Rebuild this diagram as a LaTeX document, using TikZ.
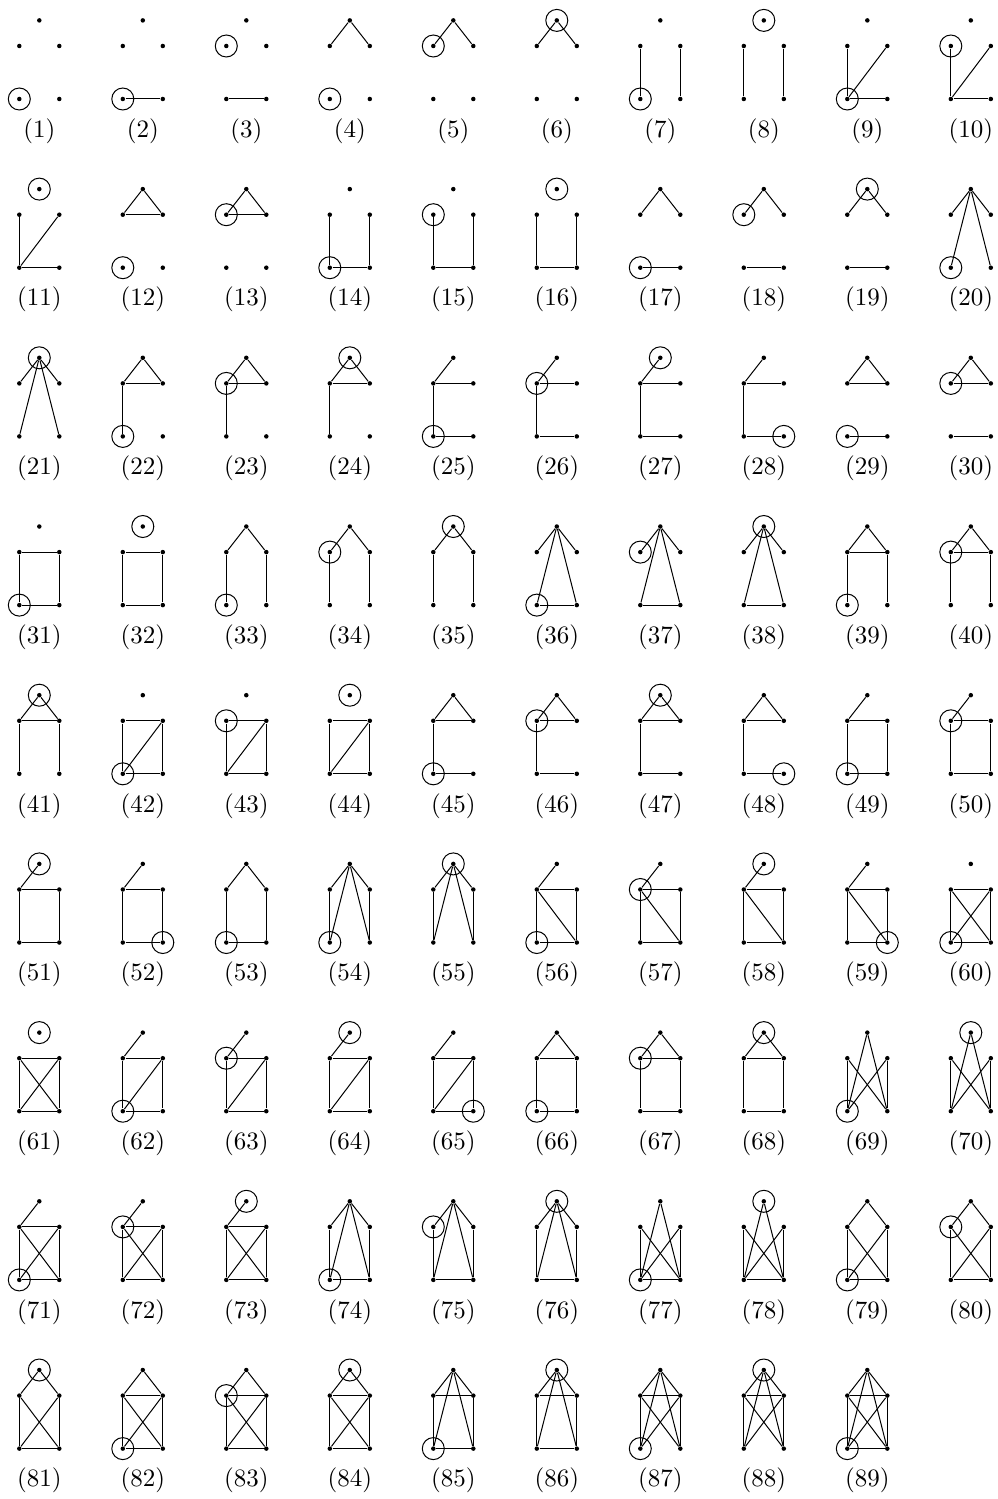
\documentclass[tikz,border=0pt]{standalone}
\begin{document}
\begin{tikzpicture}[x=0.4pt,y=-0.4pt,
  vtx/.style={circle,fill=black,draw=none,inner sep=0pt,minimum size=1.8pt},
  rootc/.style={circle,draw=black,line width=0.4pt,inner sep=0pt,minimum size=8.8pt},
  edge/.style={line width=0.4pt},
  lbl/.style={inner sep=0pt,font=\normalsize}]
\useasboundingbox (0,0) rectangle (998,1499);
\newcommand\gph[3]{%
  \pgfmathtruncatemacro\gcol{mod(#1-1,10)}%
  \pgfmathtruncatemacro\grow{(#1-1)/10}%
  \begin{scope}[shift={({39.3+103.5*\gcol},{168.7*\grow})}]
    \node[vtx] (g#1T) at (0,20.4) {};
    \node[vtx] (g#1A) at (-20,46) {};
    \node[vtx] (g#1B) at (20,46) {};
    \node[vtx] (g#1C) at (-20,99) {};
    \node[vtx] (g#1D) at (20,99) {};
    \node[lbl] (g#1L) at (0,131) {(#1)};
    \ifx\relax#3\relax\else
      \foreach \u/\v in {#3} {\draw[edge] (g#1\u) -- (g#1\v);}
    \fi
    \node[rootc] (g#1R) at (g#1#2) {};
  \end{scope}}
\gph{1}{C}{}
\gph{2}{C}{C/D}
\gph{3}{A}{C/D}
\gph{4}{C}{T/A,T/B}
\gph{5}{A}{T/A,T/B}
\gph{6}{T}{T/A,T/B}
\gph{7}{C}{A/C,B/D}
\gph{8}{T}{A/C,B/D}
\gph{9}{C}{A/C,C/B,C/D}
\gph{10}{A}{A/C,C/B,C/D}
\gph{11}{T}{A/C,C/B,C/D}
\gph{12}{C}{T/A,T/B,A/B}
\gph{13}{A}{T/A,T/B,A/B}
\gph{14}{C}{A/C,C/D,B/D}
\gph{15}{A}{A/C,C/D,B/D}
\gph{16}{T}{A/C,C/D,B/D}
\gph{17}{C}{T/A,T/B,C/D}
\gph{18}{A}{T/A,T/B,C/D}
\gph{19}{T}{T/A,T/B,C/D}
\gph{20}{C}{T/A,T/B,T/C,T/D}
\gph{21}{T}{T/A,T/B,T/C,T/D}
\gph{22}{C}{T/A,T/B,A/B,A/C}
\gph{23}{A}{T/A,T/B,A/B,A/C}
\gph{24}{T}{T/A,T/B,A/B,A/C}
\gph{25}{C}{T/A,A/B,A/C,C/D}
\gph{26}{A}{T/A,A/B,A/C,C/D}
\gph{27}{T}{T/A,A/B,A/C,C/D}
\gph{28}{D}{T/A,A/B,A/C,C/D}
\gph{29}{C}{T/A,T/B,A/B,C/D}
\gph{30}{A}{T/A,T/B,A/B,C/D}
\gph{31}{C}{A/B,A/C,B/D,C/D}
\gph{32}{T}{A/B,A/C,B/D,C/D}
\gph{33}{C}{T/A,T/B,A/C,B/D}
\gph{34}{A}{T/A,T/B,A/C,B/D}
\gph{35}{T}{T/A,T/B,A/C,B/D}
\gph{36}{C}{T/A,T/B,T/C,T/D,C/D}
\gph{37}{A}{T/A,T/B,T/C,T/D,C/D}
\gph{38}{T}{T/A,T/B,T/C,T/D,C/D}
\gph{39}{C}{T/A,T/B,A/B,A/C,B/D}
\gph{40}{A}{T/A,T/B,A/B,A/C,B/D}
\gph{41}{T}{T/A,T/B,A/B,A/C,B/D}
\gph{42}{C}{A/B,A/C,B/C,B/D,C/D}
\gph{43}{A}{A/B,A/C,B/C,B/D,C/D}
\gph{44}{T}{A/B,A/C,B/C,B/D,C/D}
\gph{45}{C}{T/A,T/B,A/B,A/C,C/D}
\gph{46}{A}{T/A,T/B,A/B,A/C,C/D}
\gph{47}{T}{T/A,T/B,A/B,A/C,C/D}
\gph{48}{D}{T/A,T/B,A/B,A/C,C/D}
\gph{49}{C}{T/A,A/B,A/C,B/D,C/D}
\gph{50}{A}{T/A,A/B,A/C,B/D,C/D}
\gph{51}{T}{T/A,A/B,A/C,B/D,C/D}
\gph{52}{D}{T/A,A/B,A/C,B/D,C/D}
\gph{53}{C}{T/A,T/B,A/C,B/D,C/D}
\gph{54}{C}{T/A,T/B,T/C,T/D,A/C,B/D}
\gph{55}{T}{T/A,T/B,T/C,T/D,A/C,B/D}
\gph{56}{C}{T/A,A/B,A/C,A/D,B/D,C/D}
\gph{57}{A}{T/A,A/B,A/C,A/D,B/D,C/D}
\gph{58}{T}{T/A,A/B,A/C,A/D,B/D,C/D}
\gph{59}{D}{T/A,A/B,A/C,A/D,B/D,C/D}
\gph{60}{C}{A/B,A/C,A/D,B/C,B/D,C/D}
\gph{61}{T}{A/B,A/C,A/D,B/C,B/D,C/D}
\gph{62}{C}{T/A,A/B,A/C,B/C,B/D,C/D}
\gph{63}{A}{T/A,A/B,A/C,B/C,B/D,C/D}
\gph{64}{T}{T/A,A/B,A/C,B/C,B/D,C/D}
\gph{65}{D}{T/A,A/B,A/C,B/C,B/D,C/D}
\gph{66}{C}{T/A,T/B,A/B,A/C,B/D,C/D}
\gph{67}{A}{T/A,T/B,A/B,A/C,B/D,C/D}
\gph{68}{T}{T/A,T/B,A/B,A/C,B/D,C/D}
\gph{69}{C}{T/C,T/D,A/C,A/D,B/C,B/D}
\gph{70}{T}{T/C,T/D,A/C,A/D,B/C,B/D}
\gph{71}{C}{T/A,A/B,A/C,A/D,B/C,B/D,C/D}
\gph{72}{A}{T/A,A/B,A/C,A/D,B/C,B/D,C/D}
\gph{73}{T}{T/A,A/B,A/C,A/D,B/C,B/D,C/D}
\gph{74}{C}{T/A,T/B,T/C,T/D,A/C,B/D,C/D}
\gph{75}{A}{T/A,T/B,T/C,T/D,A/C,B/D,C/D}
\gph{76}{T}{T/A,T/B,T/C,T/D,A/C,B/D,C/D}
\gph{77}{C}{T/C,T/D,A/C,A/D,B/C,B/D,C/D}
\gph{78}{T}{T/C,T/D,A/C,A/D,B/C,B/D,C/D}
\gph{79}{C}{T/A,T/B,A/C,A/D,B/C,B/D,C/D}
\gph{80}{A}{T/A,T/B,A/C,A/D,B/C,B/D,C/D}
\gph{81}{T}{T/A,T/B,A/C,A/D,B/C,B/D,C/D}
\gph{82}{C}{T/A,T/B,A/B,A/C,A/D,B/C,B/D,C/D}
\gph{83}{A}{T/A,T/B,A/B,A/C,A/D,B/C,B/D,C/D}
\gph{84}{T}{T/A,T/B,A/B,A/C,A/D,B/C,B/D,C/D}
\gph{85}{C}{T/A,T/B,T/C,T/D,A/B,A/C,B/D,C/D}
\gph{86}{T}{T/A,T/B,T/C,T/D,A/B,A/C,B/D,C/D}
\gph{87}{C}{T/A,T/B,T/C,T/D,A/B,A/C,A/D,B/C,B/D}
\gph{88}{T}{T/A,T/B,T/C,T/D,A/B,A/C,A/D,B/C,B/D}
\gph{89}{C}{T/A,T/B,T/C,T/D,A/B,A/C,A/D,B/C,B/D,C/D}
\end{tikzpicture}
\end{document}
